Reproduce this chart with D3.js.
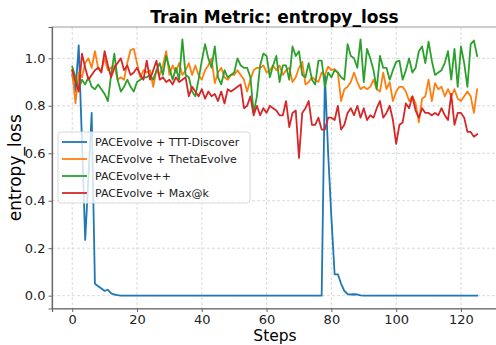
<!DOCTYPE html>
<html>
<head>
<meta charset="utf-8">
<script src="https://cdn.jsdelivr.net/npm/d3@7"></script>
<style>
  body { margin: 0; background: #fff; }
  svg { display: block; font-family: 'DejaVu Sans', sans-serif; }
</style>
</head>
<body>
<div id="chart"></div>
<script>
const steps = d3.range(0, 126);

const tttDiscover = [
  0.93, 0.86, 1.055, 0.65, 0.235, 0.5, 0.77, 0.05, 0.04, 0.03,
  0.02, 0.025, 0.01, 0.005, 0.002, 0, 0, 0, 0, 0,
  0, 0, 0, 0, 0, 0, 0, 0, 0, 0,
  0, 0, 0, 0, 0, 0, 0, 0, 0, 0,
  0, 0, 0, 0, 0, 0, 0, 0, 0, 0,
  0, 0, 0, 0, 0, 0, 0, 0, 0, 0,
  0, 0, 0, 0, 0, 0, 0, 0, 0, 0,
  0, 0, 0, 0, 0, 0, 0, 0, 0.93, 0.6,
  0.33, 0.09, 0.09, 0.05, 0.02, 0.007, 0.005, 0.006, 0.005, 0.001,
  0, 0, 0, 0, 0, 0, 0, 0, 0, 0,
  0, 0, 0, 0, 0, 0, 0, 0, 0, 0,
  0, 0, 0, 0, 0, 0, 0, 0, 0, 0,
  0, 0, 0, 0, 0, 0
];

const thetaEvolve = [
  0.95, 0.81, 0.94, 0.92, 0.98, 1.00, 0.96, 1.03, 0.96, 0.95,
  1.00, 0.95, 0.96, 0.97, 0.91, 0.92, 0.91, 0.98, 1.035, 1.04,
  0.98, 0.92, 0.95, 0.94, 0.95, 0.88, 0.95, 0.93, 0.97, 1.03,
  0.93, 0.97, 0.94, 0.98, 0.93, 0.95, 0.98, 0.93, 0.97, 0.93,
  0.91, 0.95, 0.97, 1.00, 0.895, 0.94, 0.96, 0.92, 0.91, 0.93,
  0.93, 0.95, 0.93, 0.91, 0.86, 0.91, 0.95, 0.96, 0.96, 0.97,
  0.94, 0.95, 0.97, 0.95, 0.97, 0.93, 0.95, 0.96, 0.90, 0.92,
  0.96, 0.985, 0.89, 0.90, 0.92, 0.91, 0.90, 0.94, 0.93, 0.965,
  0.95, 0.955, 0.94, 0.82, 0.87, 0.88, 0.90, 0.94, 0.90, 0.87,
  0.88, 0.87, 0.88, 0.91, 0.87, 0.86, 0.94, 0.87, 0.90, 0.82,
  0.86, 0.88, 0.88, 0.86, 0.82, 0.84, 0.81, 0.73, 0.83, 0.84,
  0.91, 0.82, 0.895, 0.87, 0.88, 0.84, 0.87, 0.84, 0.87, 0.83,
  0.82, 0.84, 0.86, 0.84, 0.77, 0.87
];

const paceEvolvePP = [
  0.965, 0.92, 0.87, 0.91, 0.89, 0.92, 0.88, 0.87, 0.89, 0.87,
  0.85, 0.82, 0.93, 1.02, 0.91, 0.86, 0.88, 0.91, 0.88, 0.86,
  0.90, 0.91, 0.92, 0.92, 0.93, 0.91, 0.95, 0.98, 0.93, 1.01,
  0.96, 0.91, 0.96, 0.91, 1.08, 0.93, 0.92, 0.86, 0.84, 0.91,
  0.99, 1.06, 1.00, 0.96, 1.05, 0.92, 0.89, 0.95, 0.92, 0.93,
  0.94, 1.00, 0.97, 0.96, 0.96, 0.92, 0.77, 0.84, 0.97, 1.02,
  1.01, 0.92, 0.97, 1.01, 0.90, 0.97, 0.97, 0.91, 1.05, 1.01,
  1.03, 0.93, 0.92, 0.98, 0.91, 0.89, 0.99, 0.99, 0.88, 0.94,
  0.92, 0.95, 0.94, 0.92, 0.91, 1.06, 1.01, 1.00, 0.96, 1.08,
  0.90, 1.04, 1.00, 0.95, 0.87, 1.01, 0.96, 0.96, 0.91, 0.95,
  0.985, 0.99, 0.91, 0.95, 1.00, 0.94, 0.96, 1.03, 1.05, 0.98,
  1.07, 0.99, 0.93, 0.94, 0.95, 0.98, 1.03, 0.91, 1.04, 0.88,
  1.05, 0.98, 0.88, 1.06, 1.075, 1.01
];

const maxAtK = [
  0.95, 0.90, 0.86, 1.02, 0.96, 0.91, 0.93, 0.95, 0.96, 0.94,
  1.03, 0.97, 0.92, 0.96, 0.98, 1.00, 0.95, 0.97, 0.93, 0.94,
  0.96, 0.93, 0.91, 0.99, 0.91, 0.95, 0.99, 0.91, 0.92, 0.90,
  0.91, 0.89, 0.92, 0.90, 0.91, 0.92, 0.84, 0.88, 0.86, 0.84,
  0.87, 0.83, 0.86, 0.84, 0.85, 0.82, 0.86, 0.81, 0.87, 0.86,
  0.87, 0.88, 0.89, 0.79, 0.80, 0.84, 0.76, 0.80, 0.76, 0.79,
  0.77, 0.80, 0.79, 0.78, 0.76, 0.76, 0.82, 0.71, 0.77, 0.78,
  0.58, 0.77, 0.79, 0.82, 0.72, 0.72, 0.75, 0.70, 0.70, 0.75,
  0.75, 0.74, 0.80, 0.70, 0.72, 0.77, 0.79, 0.76, 0.80, 0.75,
  0.79, 0.74, 0.76, 0.75, 0.79, 0.82, 0.75, 0.77, 0.80, 0.74,
  0.64, 0.72, 0.73, 0.81, 0.79, 0.84, 0.78, 0.75, 0.79, 0.77,
  0.77, 0.76, 0.77, 0.76, 0.79, 0.76, 0.74, 0.85, 0.72, 0.77,
  0.77, 0.75, 0.69, 0.69, 0.67, 0.68
];

const seriesNames = ['PACEvolve + TTT-Discover', 'PACEvolve + ThetaEvolve', 'PACEvolve++', 'PACEvolve + Max@k'];
const seriesValues = [tttDiscover, thetaEvolve, paceEvolvePP, maxAtK];
const colors = ['#1f77b4', '#ff7f0e', '#2ca02c', '#d62728'];
const xTicks = [0, 20, 40, 60, 80, 100, 120];
const yTicks = [0.0, 0.2, 0.4, 0.6, 0.8, 1.0];

const width = 496, height = 345;
const margin = { top: 27, right: -1.4, bottom: 36.5, left: 52 };
const innerW = width - margin.left - margin.right;
const innerH = height - margin.top - margin.bottom;

const svg = d3.select('#chart')
  .append('svg')
  .attr('width', width)
  .attr('height', height);

const g = svg.append('g')
  .attr('transform', 'translate(' + margin.left + ',' + margin.top + ')');

// matplotlib-like 5% padding on both axes
const x = d3.scaleLinear().domain([-6.25, 131.25]).range([0, innerW]);
const y = d3.scaleLinear().domain([-0.054, 1.132]).range([innerH, 0]);

// grid
g.append('g')
  .selectAll('line')
  .data(xTicks)
  .join('line')
  .attr('x1', d => x(d)).attr('x2', d => x(d))
  .attr('y1', 0).attr('y2', innerH)
  .attr('stroke', '#d0d0d0').attr('stroke-width', 0.8)
  .attr('stroke-dasharray', '3,2');

g.append('g')
  .selectAll('line')
  .data(yTicks)
  .join('line')
  .attr('x1', 0).attr('x2', innerW)
  .attr('y1', d => y(d)).attr('y2', d => y(d))
  .attr('stroke', '#d0d0d0').attr('stroke-width', 0.8)
  .attr('stroke-dasharray', '3,2');

// lines
const line = d3.line()
  .x((d, i) => x(steps[i]))
  .y(d => y(d));

seriesValues.forEach((vals, i) => {
  g.append('path')
    .datum(vals)
    .attr('fill', 'none')
    .attr('stroke', colors[i])
    .attr('stroke-width', 1.8)
    .attr('stroke-linejoin', 'round')
    .attr('stroke-linecap', 'square')
    .attr('d', line);
});

// frame
g.append('rect')
  .attr('x', 0).attr('y', 0)
  .attr('width', innerW).attr('height', innerH)
  .attr('fill', 'none')
  .attr('stroke', '#999').attr('stroke-width', 1);

// axes
const xAxis = g.append('g')
  .attr('transform', 'translate(0,' + innerH + ')')
  .call(d3.axisBottom(x).tickValues(xTicks).tickSize(3.5).tickPadding(3).tickFormat(d3.format('d')));

const yAxis = g.append('g')
  .call(d3.axisLeft(y).tickValues(yTicks).tickSize(3.5).tickPadding(3).tickFormat(d3.format('.1f')));

[xAxis, yAxis].forEach(a => {
  a.select('.domain').attr('stroke', '#666').attr('stroke-width', 1.2);
  a.selectAll('.tick line').attr('stroke', '#666');
  a.selectAll('.tick text')
    .attr('fill', '#222')
    .style('font-size', '13px')
    .style('font-family', 'DejaVu Sans');
});

// title and labels
svg.append('text')
  .attr('x', 274.5).attr('y', 22.5)
  .attr('text-anchor', 'middle')
  .style('font-size', '17px')
  .style('font-weight', 'bold')
  .text('Train Metric: entropy_loss');

svg.append('text')
  .attr('x', 275).attr('y', 340.5)
  .attr('text-anchor', 'middle')
  .style('font-size', '15.5px')
  .text('Steps');

svg.append('text')
  .attr('transform', 'translate(21,' + (margin.top + innerH / 2) + ') rotate(-90)')
  .attr('text-anchor', 'middle')
  .style('font-size', '17px')
  .text('entropy_loss');

// legend
const legend = svg.append('g').attr('transform', 'translate(58,132)');

legend.append('rect')
  .attr('width', 192).attr('height', 71)
  .attr('rx', 3)
  .attr('fill', 'white').attr('fill-opacity', 0.8)
  .attr('stroke', '#d8d8d8');

seriesNames.forEach((name, i) => {
  const row = legend.append('g').attr('transform', 'translate(0,' + (10 + i * 17) + ')');
  row.append('line')
    .attr('x1', 4).attr('x2', 29)
    .attr('stroke', colors[i]).attr('stroke-width', 1.8);
  row.append('text')
    .attr('x', 37).attr('y', 4)
    .style('font-size', '11px')
    .attr('fill', '#222')
    .text(name);
});
</script>
</body>
</html>
